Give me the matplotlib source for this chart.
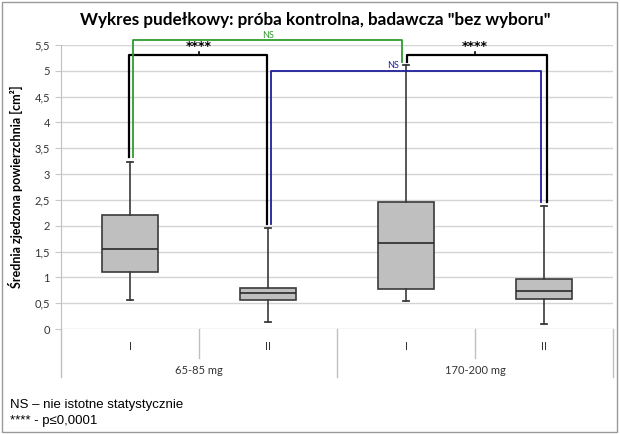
import matplotlib
matplotlib.use("Agg")
import matplotlib.pyplot as plt
from matplotlib.patches import Rectangle

plt.rcParams['font.family'] = ['Lato', 'DejaVu Sans']

# data
groups = ['65-85 mg', '170-200 mg']
subgroups = ['I', 'II', 'I', 'II']
whisk_lo = [0.56, 0.13, 0.55, 0.10]
q1 = [1.10, 0.56, 0.77, 0.58]
med = [1.55, 0.69, 1.67, 0.74]
q3 = [2.20, 0.80, 2.46, 0.97]
whisk_hi = [3.23, 1.95, 5.12, 2.38]
yticks = [0, 0.5, 1, 1.5, 2, 2.5, 3, 3.5, 4, 4.5, 5, 5.5]

fig = plt.figure(figsize=(6.2, 4.34), dpi=100)
W, H = 620, 434
ax = fig.add_axes([61 / W, 1 - 329 / H, (613 - 61) / W, (329 - 45) / H])

pos = [0.5, 1.5, 2.5, 3.5]
stats = []
for i in range(4):
    stats.append(dict(whislo=whisk_lo[i], q1=q1[i], med=med[i], q3=q3[i],
                      whishi=whisk_hi[i], fliers=[]))
ax.bxp(stats, positions=pos, widths=0.41, capwidths=0.05, patch_artist=True,
       showfliers=False,
       boxprops=dict(facecolor='#bfbfbf', edgecolor='#3a3a3a', linewidth=1.2),
       medianprops=dict(color='#2a2a2a', linewidth=1.2),
       whiskerprops=dict(color='#3a3a3a', linewidth=1.2),
       capprops=dict(color='#3a3a3a', linewidth=1.3))

ax.set_xlim(0, 4)
ax.set_ylim(0, 5.5)
ax.set_yticks(yticks)
ax.set_yticklabels([('%g' % t).replace('.', ',') for t in yticks], fontsize=8, color='#333333')
ax.yaxis.grid(True, color='#d4d4d4', linewidth=1)
ax.set_axisbelow(True)
ax.tick_params(axis='y', length=4, color='#c8c8c8', pad=4)
ax.set_xticks([])
for s in ['top', 'right', 'bottom']:
    ax.spines[s].set_visible(False)
ax.spines['left'].set_color('#c0c0c0')
ax.set_ylabel('Średnia zjedzona powierzchnia [cm²]', fontsize=9, fontweight='bold', labelpad=8)

# significance brackets
star_font = dict(family='DejaVu Sans', fontweight='bold', fontsize=9)
ax.plot([0.49, 0.49, 1.49, 1.49], [3.33, 5.31, 5.31, 2.04], color='black', lw=1.6, clip_on=False)
ax.plot([1.0, 1.0], [5.31, 5.37], color='black', lw=1.2, clip_on=False)
ax.text(1.0, 5.35, '****', ha='center', va='bottom', clip_on=False, **star_font)

ax.plot([2.51, 2.51, 3.52, 3.52], [5.17, 5.31, 5.31, 2.45], color='black', lw=1.6, clip_on=False)
ax.plot([3.0, 3.0], [5.31, 5.37], color='black', lw=1.2, clip_on=False)
ax.text(3.0, 5.35, '****', ha='center', va='bottom', clip_on=False, **star_font)

ax.plot([0.52, 0.52, 2.47, 2.47], [3.33, 5.59, 5.59, 5.17], color='#2e9b2e', lw=1.3, clip_on=False)
ax.text(1.5, 5.60, 'NS', ha='center', va='bottom', fontsize=6.5, color='#2e9b2e', clip_on=False)

ax.plot([1.52, 1.52, 3.48, 3.48], [2.04, 5.0, 5.0, 2.45], color='#1f1f9a', lw=1.3, clip_on=False)
ax.text(2.45, 5.02, 'NS', ha='right', va='bottom', fontsize=6.5, color='#1f1f9a', clip_on=False)

# category table under the axis
px = 284 / 5.5
y_sub = -(347 - 329) / px
y_grp = -(371 - 329) / px
y_short = -(358 - 329) / px
y_long = -(377 - 329) / px
tc = '#c0c0c0'
for x in [0, 2, 4]:
    ax.plot([x, x], [0, y_long], color=tc, lw=1, clip_on=False)
for x in [1, 3]:
    ax.plot([x, x], [0, y_short], color=tc, lw=1, clip_on=False)
for p, lab in zip(pos, subgroups):
    ax.text(p, y_sub, lab, ha='center', va='center', fontsize=8, color='#333333')
for i, g in enumerate(groups):
    ax.text(2 * i + 1, y_grp, g, ha='center', va='center', fontsize=8, color='#333333')

fig.text(315 / W, 1 - 20 / H, 'Wykres pudełkowy: próba kontrolna, badawcza "bez wyboru"',
         ha='center', va='center', fontsize=12.3, fontweight='bold')

fig.text(10 / W, 1 - 405 / H, 'NS – nie istotne statystycznie', fontsize=9.5,
         family='Liberation Sans', va='center')
fig.text(10 / W, 1 - 421 / H, '**** - p≤0,0001', fontsize=9.5,
         family='Liberation Sans', va='center')

fig.patches.append(Rectangle((2 / W, 2 / H), 615 / W, 430 / H, transform=fig.transFigure,
                             fill=False, edgecolor='#999999', lw=1))

fig.savefig('out.png', dpi=100)
